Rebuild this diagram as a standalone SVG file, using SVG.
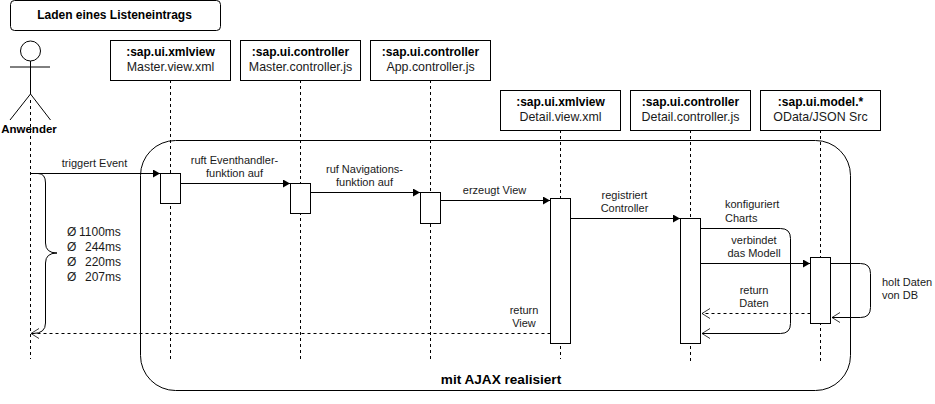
<svg xmlns="http://www.w3.org/2000/svg" width="935" height="404" viewBox="0 0 935 404">
<style>
text{font-family:"Liberation Sans",Arial,Helvetica,sans-serif;font-size:11px;fill:#1a1a1a;text-anchor:middle}
.b{font-weight:bold;font-size:12px;fill:#000}
.n{font-size:12.400px}
.t{font-size:12px;text-anchor:start}
.box{fill:#fff;stroke:#000;stroke-width:1}
.life{fill:none;stroke:#000;stroke-width:1;stroke-dasharray:3 3}
.line{fill:none;stroke:#000;stroke-width:1}
.dash{fill:none;stroke:#000;stroke-width:1;stroke-dasharray:3 3}
.l{text-anchor:start}
</style>
<defs>
<marker id="solid" markerUnits="userSpaceOnUse" markerWidth="10" markerHeight="10" refX="7" refY="4" orient="auto"><path d="M0 0L7 4L0 8Z" fill="#000"/></marker>
<marker id="open" markerUnits="userSpaceOnUse" markerWidth="12" markerHeight="12" refX="9" refY="5" orient="auto"><path d="M1 0L9 5L1 10" fill="none" stroke="#000" stroke-width="0.8"/></marker>
</defs>
<rect width="935" height="404" fill="#fff"/>
<g id="group-ajax">
<rect class="line" x="140.500" y="140.500" width="710" height="250" rx="35" ry="35"/>
<text x="501" y="384" class="b" style="font-size:13.600px">mit AJAX realisiert</text>
</g>
<g id="lifelines">
<path class="life" d="M30.500 100V359M170.500 80V359M300.500 80V359M430.500 80V359M560.500 130V359M690.500 130V361M820.500 130V361"/>
</g>
<g id="title">
<rect class="box" x="10.500" y="0.500" width="210" height="30" rx="4"/>
<text x="114.500" y="19" class="b">Laden eines Listeneintrags</text>
</g>
<g id="actor">
<circle class="line" cx="30.500" cy="51" r="10"/>
<path class="line" d="M10 67H50M30.500 61V94M30.500 94L10 120M30.500 94L50.500 120"/>
<text x="29" y="133" class="b" style="font-size:11.500px">Anwender</text>
</g>
<g id="node-master-view">
<rect class="box" x="110.500" y="40.500" width="120" height="40"/>
<text x="170.500" y="56" class="b">:sap.ui.xmlview</text><text x="170.500" y="71" class="n">Master.view.xml</text>
</g>
<g id="node-master-controller">
<rect class="box" x="240.500" y="40.500" width="120" height="40"/>
<text x="300.500" y="56" class="b">:sap.ui.controller</text><text x="300.500" y="71" class="n">Master.controller.js</text>
</g>
<g id="node-app-controller">
<rect class="box" x="370.500" y="40.500" width="120" height="40"/>
<text x="430.500" y="56" class="b">:sap.ui.controller</text><text x="430.500" y="71" class="n">App.controller.js</text>
</g>
<g id="node-detail-view">
<rect class="box" x="500.500" y="90.500" width="120" height="40"/>
<text x="560.500" y="106" class="b">:sap.ui.xmlview</text><text x="560.500" y="121" class="n">Detail.view.xml</text>
</g>
<g id="node-detail-controller">
<rect class="box" x="630.500" y="90.500" width="120" height="40"/>
<text x="690.500" y="106" class="b">:sap.ui.controller</text><text x="690.500" y="121" class="n">Detail.controller.js</text>
</g>
<g id="node-model">
<rect class="box" x="760.500" y="90.500" width="120" height="40"/>
<text x="820.500" y="106" class="b">:sap.ui.model.*</text><text x="820.500" y="121" class="n">OData/JSON Src</text>
</g>
<g id="activations">
<rect class="box" x="160.500" y="173.500" width="20" height="30"/>
<rect class="box" x="290.500" y="183.500" width="20" height="30"/>
<rect class="box" x="420.500" y="192.500" width="20" height="31"/>
<rect class="box" x="550.500" y="198.500" width="20" height="145"/>
<rect class="box" x="680.500" y="218.500" width="20" height="125"/>
<rect class="box" x="810.500" y="257.500" width="20" height="66"/>
</g>
<g id="connectors">
<path class="line" d="M30.500 173.500H160" marker-end="url(#solid)"/>
<path class="line" d="M180.500 183.500H290" marker-end="url(#solid)"/>
<path class="line" d="M310.500 192.500H420" marker-end="url(#solid)"/>
<path class="line" d="M440.500 200.500H550" marker-end="url(#solid)"/>
<path class="line" d="M570.500 218.500H680" marker-end="url(#solid)"/>
<path class="line" d="M700.500 263.500H810" marker-end="url(#solid)"/>
<path class="line" d="M700.500 228.500H780.500Q790.500 228.500 790.500 238.500V323.500Q790.500 333.500 780.500 333.500H702" marker-end="url(#open)"/>
<path class="dash" d="M810.500 313.500H702" marker-end="url(#open)"/>
<path class="line" d="M830.500 263.500H860.500Q870.500 263.500 870.500 273.500V307.500Q870.500 317.500 860.500 317.500H832" marker-end="url(#open)"/>
<path class="dash" d="M550.500 333.500H31" marker-end="url(#open)"/>
<path class="line" d="M31 173.500H38Q45.500 173.500 45.500 183V243Q45.500 253 57 253Q45.500 253 45.500 263V323Q45.500 333.500 33 333.500"/>
</g>
<g id="labels">
<text x="94.500" y="167">triggert Event</text>
<text x="234.500" y="164">ruft Eventhandler-</text><text x="234.500" y="177">funktion auf</text>
<text x="364.500" y="173">ruf Navigations-</text><text x="364.500" y="186">funktion auf</text>
<text x="494.500" y="194">erzeugt View</text>
<text x="624.500" y="199">registriert</text><text x="624.500" y="212">Controller</text>
<text x="725" y="208" class="l">konfiguriert</text><text x="725" y="222" class="l">Charts</text>
<text x="754" y="244">verbindet</text><text x="754" y="257">das Modell</text>
<text x="754" y="294">return</text><text x="754" y="307">Daten</text>
<text x="524" y="314">return</text><text x="524" y="327">View</text>
<text x="882" y="286" class="l">holt Daten</text><text x="882" y="299" class="l">von DB</text>
<text x="67" y="236" class="t">Ø</text><text x="79" y="236" class="t">1100ms</text>
<text x="67" y="251" class="t">Ø</text><text x="85" y="251" class="t">244ms</text>
<text x="67" y="266" class="t">Ø</text><text x="85" y="266" class="t">220ms</text>
<text x="67" y="281" class="t">Ø</text><text x="85" y="281" class="t">207ms</text>
</g>
</svg>
